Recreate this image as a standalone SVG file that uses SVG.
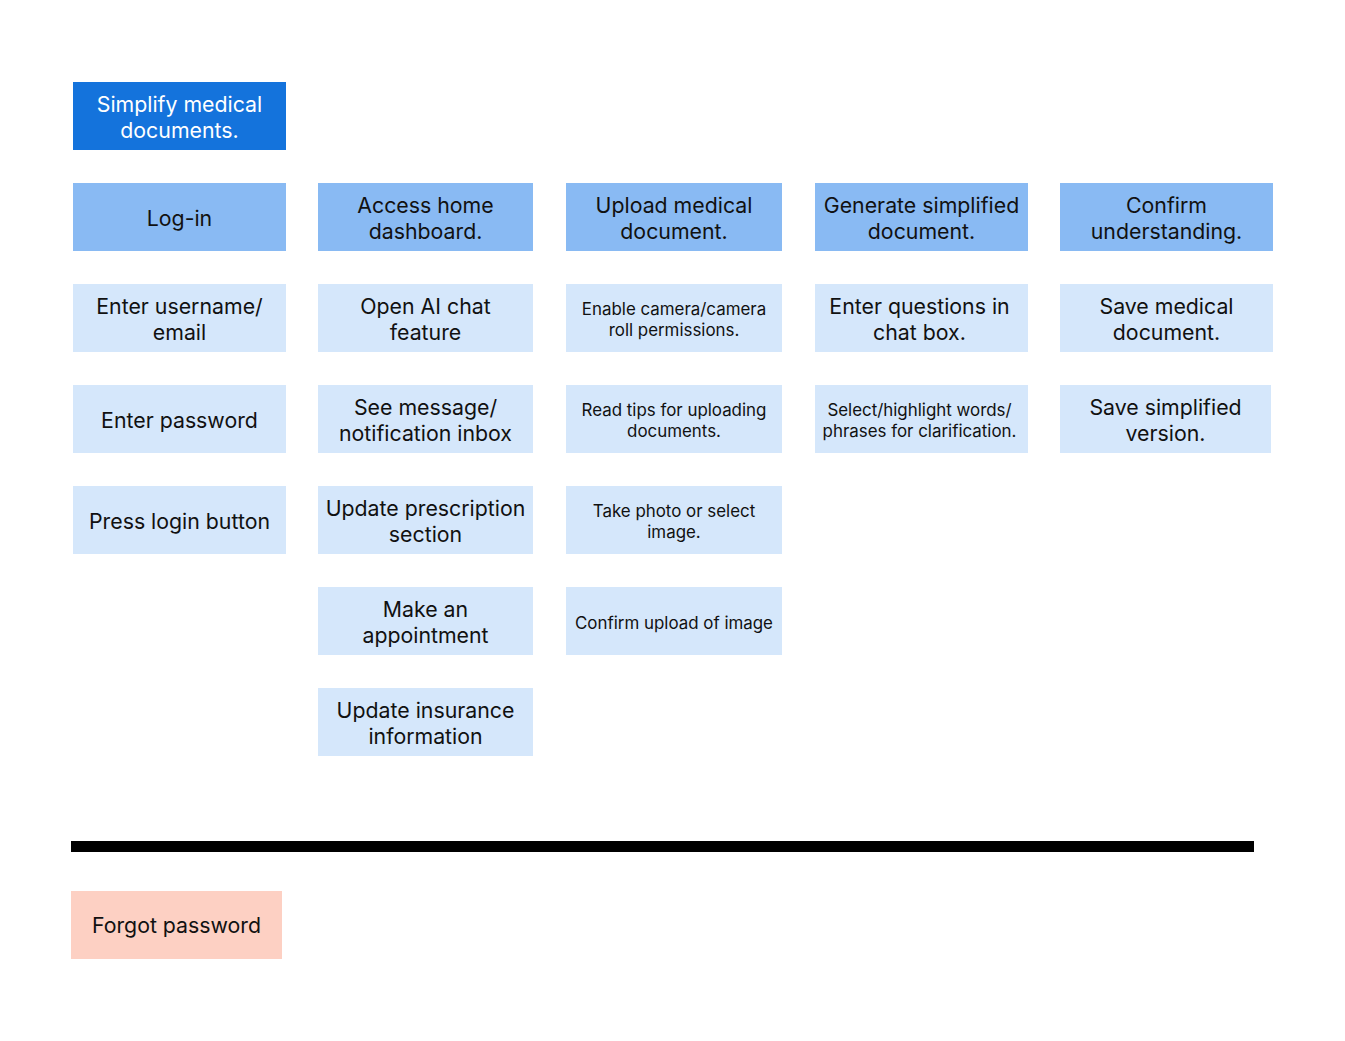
<svg xmlns="http://www.w3.org/2000/svg" width="1345" height="1041" viewBox="0 0 1345 1041">
<style>
text{font-family:Inter,"Liberation Sans",sans-serif;fill:#111;text-anchor:middle}
.b{font-size:21.3px}
.s{font-size:16.9px}
.top{fill:#1473DC}
.mid{fill:#89BAF3}
.low{fill:#D5E7FB}
.red{fill:#FDD0C3}
.w{fill:#fff}
</style>
<rect width="1345" height="1041" fill="#fff"/>
<g id="n-simplify"><rect class="top" x="73" y="82" width="213" height="68"/><text class="b w" x="179.5" y="112">Simplify medical</text><text class="b w" x="179.5" y="138">documents.</text></g>
<g id="n-login"><rect class="mid" x="73" y="183" width="213" height="68"/><text class="b" x="179.5" y="226">Log-in</text></g>
<g id="n-home"><rect class="mid" x="318" y="183" width="215" height="68"/><text class="b" x="425.5" y="213">Access home</text><text class="b" x="425.5" y="239">dashboard.</text></g>
<g id="n-upload"><rect class="mid" x="566" y="183" width="216" height="68"/><text class="b" x="674" y="213">Upload medical</text><text class="b" x="674" y="239">document.</text></g>
<g id="n-generate"><rect class="mid" x="815" y="183" width="213" height="68"/><text class="b" x="921.5" y="213">Generate simplified</text><text class="b" x="921.5" y="239">document.</text></g>
<g id="n-confirm"><rect class="mid" x="1060" y="183" width="213" height="68"/><text class="b" x="1166.5" y="213">Confirm</text><text class="b" x="1166.5" y="239">understanding.</text></g>
<g id="n-username"><rect class="low" x="73" y="284" width="213" height="68"/><text class="b" x="179.5" y="314">Enter username/</text><text class="b" x="179.5" y="340">email</text></g>
<g id="n-password"><rect class="low" x="73" y="385" width="213" height="68"/><text class="b" x="179.5" y="428">Enter password</text></g>
<g id="n-loginbtn"><rect class="low" x="73" y="486" width="213" height="68"/><text class="b" x="179.5" y="529">Press login button</text></g>
<g id="n-aichat"><rect class="low" x="318" y="284" width="215" height="68"/><text class="b" x="425.5" y="314">Open AI chat</text><text class="b" x="425.5" y="340">feature</text></g>
<g id="n-inbox"><rect class="low" x="318" y="385" width="215" height="68"/><text class="b" x="425.5" y="415">See message/</text><text class="b" x="425.5" y="441">notification inbox</text></g>
<g id="n-prescription"><rect class="low" x="318" y="486" width="215" height="68"/><text class="b" x="425.5" y="516">Update prescription</text><text class="b" x="425.5" y="542">section</text></g>
<g id="n-appointment"><rect class="low" x="318" y="587" width="215" height="68"/><text class="b" x="425.5" y="617">Make an</text><text class="b" x="425.5" y="643">appointment</text></g>
<g id="n-insurance"><rect class="low" x="318" y="688" width="215" height="68"/><text class="b" x="425.5" y="718">Update insurance</text><text class="b" x="425.5" y="744">information</text></g>
<g id="n-camera"><rect class="low" x="566" y="284" width="216" height="68"/><text class="s" x="674" y="315">Enable camera/camera</text><text class="s" x="674" y="336">roll permissions.</text></g>
<g id="n-tips"><rect class="low" x="566" y="385" width="216" height="68"/><text class="s" x="674" y="416">Read tips for uploading</text><text class="s" x="674" y="437">documents.</text></g>
<g id="n-photo"><rect class="low" x="566" y="486" width="216" height="68"/><text class="s" x="674" y="517">Take photo or select</text><text class="s" x="674" y="538">image.</text></g>
<g id="n-confirmupload"><rect class="low" x="566" y="587" width="216" height="68"/><text class="s" x="674" y="629">Confirm upload of image</text></g>
<g id="n-questions"><rect class="low" x="815" y="284" width="213" height="68"/><text class="b" x="919.5" y="314">Enter questions in</text><text class="b" x="919.5" y="340">chat box.</text></g>
<g id="n-highlight"><rect class="low" x="815" y="385" width="213" height="68"/><text class="s" x="919.5" y="416">Select/highlight words/</text><text class="s" x="919.5" y="437">phrases for clarification.</text></g>
<g id="n-savemed"><rect class="low" x="1060" y="284" width="213" height="68"/><text class="b" x="1166.5" y="314">Save medical</text><text class="b" x="1166.5" y="340">document.</text></g>
<g id="n-savesimp"><rect class="low" x="1060" y="385" width="211" height="68"/><text class="b" x="1165.5" y="415">Save simplified</text><text class="b" x="1165.5" y="441">version.</text></g>
<g id="connectors"><rect x="71" y="841" width="1183" height="11" fill="#000"/></g>
<g id="n-forgot"><rect class="red" x="71" y="891" width="211" height="68"/><text class="b" x="176.5" y="933">Forgot password</text></g>
</svg>
